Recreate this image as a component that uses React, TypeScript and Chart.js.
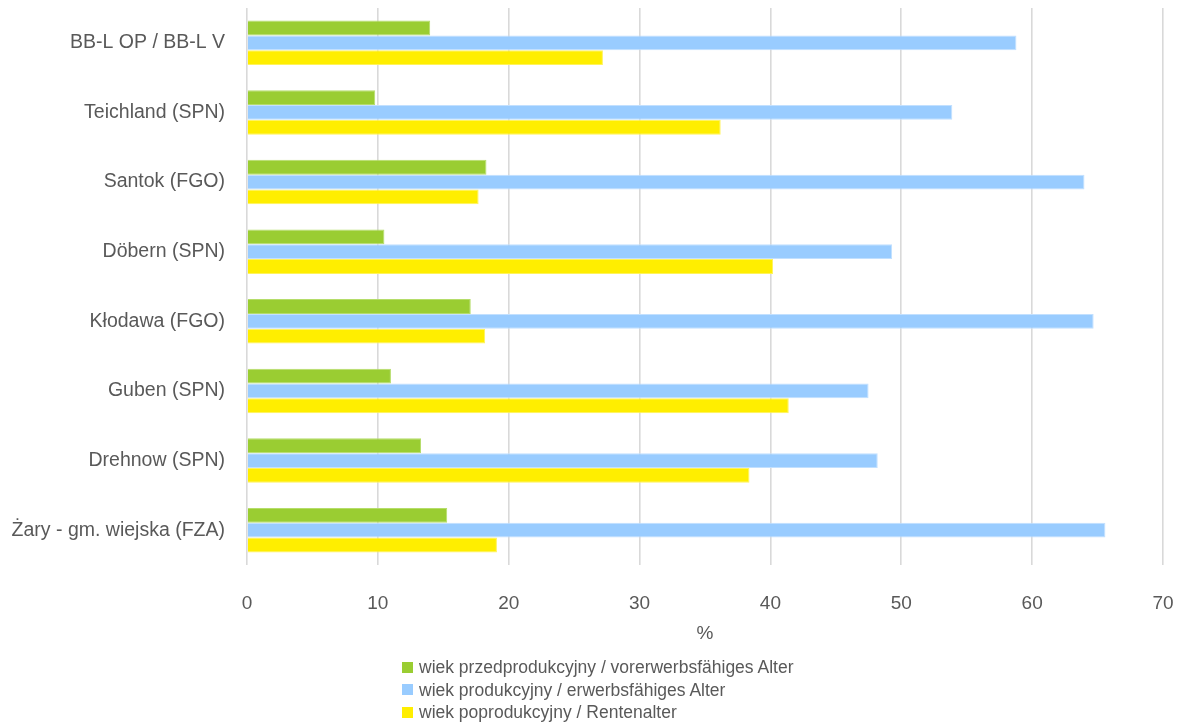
import React, { useEffect, useRef } from "react";
import { Chart, registerables } from "chart.js";

Chart.register(...registerables);

const categories = [
  "BB-L OP / BB-L V",
  "Teichland (SPN)",
  "Santok (FGO)",
  "Döbern (SPN)",
  "Kłodawa (FGO)",
  "Guben (SPN)",
  "Drehnow (SPN)",
  "Żary - gm. wiejska (FZA)",
];

const seriesLabels = [
  "wiek przedprodukcyjny / vorerwerbsfähiges Alter",
  "wiek produkcyjny / erwerbsfähiges Alter",
  "wiek poprodukcyjny / Rentenalter",
];

const preWorking = [14.0, 9.8, 18.3, 10.5, 17.1, 11.0, 13.3, 15.3];
const working = [58.8, 53.9, 64.0, 49.3, 64.7, 47.5, 48.2, 65.6];
const postWorking = [27.2, 36.2, 17.7, 40.2, 18.2, 41.4, 38.4, 19.1];

const colors = ["#9ACD32", "#99CCFF", "#FFEE00"];
const borderColors = ["#B5DD6A", "#C2E0FF", "#FFF35C"];

const FONT = "'Liberation Sans', Arial, sans-serif";
const TEXT = "#595959";

export default function App() {
  const ref = useRef<HTMLCanvasElement | null>(null);

  useEffect(() => {
    document.body.style.margin = "0";
    if (!ref.current) return;
    const values = [preWorking, working, postWorking];
    const chart = new Chart(ref.current, {
      type: "bar",
      data: {
        labels: categories,
        datasets: values.map((v, i) => ({
          label: seriesLabels[i],
          data: v,
          backgroundColor: colors[i],
          borderColor: borderColors[i],
          borderWidth: 1,
          categoryPercentage: 0.64,
          barPercentage: 1.0,
        })),
      },
      options: {
        indexAxis: "y",
        responsive: false,
        animation: false,
        layout: { padding: { top: 8, right: 16, bottom: 78, left: 0 } },
        plugins: {
          legend: { display: false },
          tooltip: { enabled: false },
        },
        scales: {
          x: {
            min: 0,
            max: 70,
            ticks: {
              stepSize: 10,
              padding: 27,
              color: TEXT,
              font: { family: FONT, size: 19 },
            },
            grid: { color: "#D9D9D9", lineWidth: 1.6, drawTicks: false },
            border: { display: false },
            title: {
              display: true,
              text: "%",
              color: TEXT,
              font: { family: FONT, size: 19 },
              padding: { top: 7, bottom: 0 },
            },
            afterFit: (scale: any) => {
              scale.paddingLeft = 0;
              scale.paddingRight = 0;
              scale.height = 80;
            },
          },
          y: {
            ticks: {
              padding: 14,
              color: TEXT,
              font: { family: FONT, size: 19.5 },
            },
            grid: { display: false },
            border: { display: false },
            afterFit: (scale: any) => {
              scale.width = 247;
              scale.paddingTop = 0;
              scale.paddingBottom = 0;
            },
          },
        },
      },
    });
    return () => chart.destroy();
  }, []);

  return (
    <div style={{ position: "relative", width: 1179, height: 723, background: "#fff" }}>
      <canvas ref={ref} width={1179} height={723} style={{ display: "block" }} />
      <div
        style={{
          position: "absolute",
          left: 402,
          top: 656,
          fontFamily: FONT,
          fontSize: 17.5,
          color: TEXT,
          lineHeight: "22.5px",
        }}
      >
        {seriesLabels.map((l, i) => (
          <div key={l} style={{ display: "flex", alignItems: "center", whiteSpace: "nowrap" }}>
            <span
              style={{
                display: "inline-block",
                width: 11,
                height: 11,
                background: colors[i],
                marginRight: 6,
              }}
            />
            <span>{l}</span>
          </div>
        ))}
      </div>
    </div>
  );
}
